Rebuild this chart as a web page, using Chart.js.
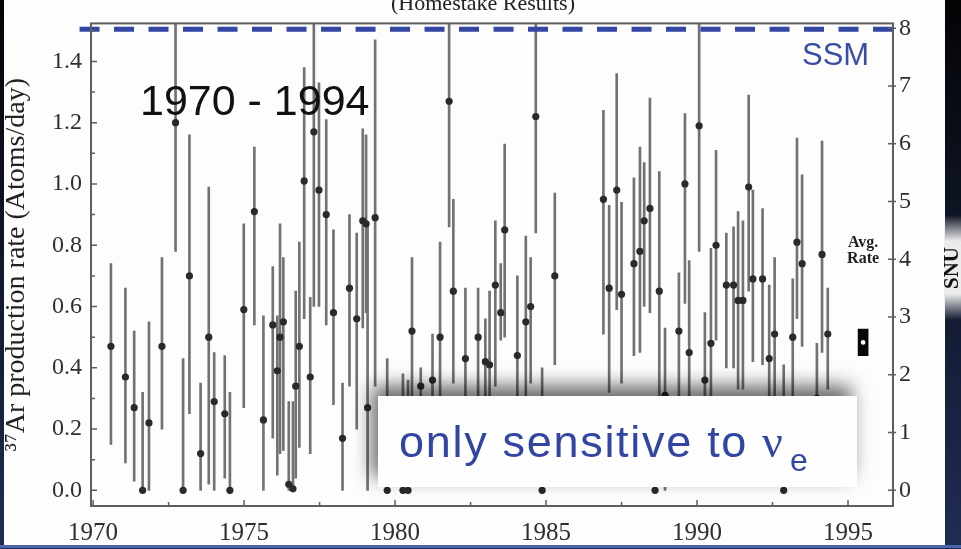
<!DOCTYPE html>
<html>
<head>
<meta charset="utf-8">
<script src="https://cdn.jsdelivr.net/npm/chart.js@4.4.1/dist/chart.umd.min.js"></script>
<style>
html, body { margin: 0; padding: 0; background: #0a0d16; overflow: hidden; }
#wrap { position: relative; width: 961px; height: 549px; }
</style>
</head>
<body>
<div id="wrap"><canvas id="chart"></canvas></div>
<script>
// Run dates (years) and 37Ar production rate (atoms/day)
const years = [1970.59, 1971.07, 1971.36, 1971.64, 1971.85, 1972.28, 1972.73, 1972.98, 1973.19, 1973.56,
  1973.83, 1974.01, 1974.36, 1974.53, 1974.99, 1975.34, 1975.64, 1975.95, 1976.10, 1976.19,
  1976.30, 1976.48, 1976.62, 1976.71, 1976.83, 1976.99, 1977.19, 1977.31, 1977.48, 1977.72,
  1977.96, 1978.26, 1978.49, 1978.73, 1978.93, 1979.04, 1979.09, 1979.34, 1979.74, 1980.26,
  1980.43, 1980.56, 1980.85, 1981.24, 1981.49, 1981.79, 1981.93, 1982.33, 1982.75, 1982.99,
  1983.13, 1983.32, 1983.50, 1983.63, 1984.05, 1984.33, 1984.49, 1984.66, 1984.87, 1985.29,
  1986.90, 1987.09, 1987.34, 1987.50, 1987.91, 1988.11, 1988.25, 1988.44, 1988.61, 1988.75,
  1988.94, 1989.40, 1989.60, 1989.74, 1990.07, 1990.26, 1990.46, 1990.63, 1990.97, 1991.21,
  1991.36, 1991.52, 1991.71, 1991.85, 1992.17, 1992.39, 1992.57, 1992.87, 1993.17, 1993.31,
  1993.48, 1993.97, 1994.14, 1994.33];
const rates = [0.47, 0.37, 0.27, 0, 0.22, 0.47, 1.20, 0, 0.70, 0.12,
  0.50, 0.29, 0.25, 0, 0.59, 0.91, 0.23, 0.54, 0.39, 0.50,
  0.55, 0.02, 0.005, 0.34, 0.47, 1.01, 0.37, 1.17, 0.98, 0.90,
  0.58, 0.17, 0.66, 0.56, 0.88, 0.87, 0.27, 0.89, 0, 0,
  0, 0.52, 0.34, 0.36, 0.50, 1.27, 0.65, 0.43, 0.50, 0.42,
  0.41, 0.67, 0.58, 0.85, 0.44, 0.55, 0.60, 1.22, 0, 0.70,
  0.95, 0.66, 0.98, 0.64, 0.74, 0.78, 0.88, 0.92, 0, 0.65,
  0.31, 0.52, 1.00, 0.45, 1.19, 0.36, 0.48, 0.80, 0.67, 0.67,
  0.62, 0.62, 0.99, 0.69, 0.69, 0.43, 0.51, 0, 0.50, 0.81,
  0.74, 0.30, 0.77, 0.51];
const errLow = [0.15, 0.09, 0.03, 0, 0, 0.20, 0.78, 0, 0.25, 0,
  0.02, 0, 0.04, 0, 0.27, 0.54, 0, 0.17, 0.05, 0.12,
  0.13, 0, 0, 0.04, 0.14, 0.56, 0.12, 0.60, 0.60, 0.54,
  0.28, 0, 0.34, 0.20, 0.53, 0.58, 0, 0.34, 0, 0,
  0, 0.28, 0.12, 0.20, 0.19, 0.86, 0.35, 0.20, 0.28, 0.15,
  0.15, 0.34, 0.49, 0.50, 0.19, 0.30, 0.35, 0.84, 0, 0.41,
  0.51, 0.32, 0.59, 0.35, 0.44, 0.45, 0.60, 0.58, 0, 0.30,
  0, 0.30, 0.61, 0.15, 0.78, 0.10, 0.15, 0.49, 0.40, 0.40,
  0.33, 0.33, 0.65, 0.42, 0.41, 0.20, 0.27, 0, 0.27, 0.56,
  0.47, 0.10, 0.45, 0.33];
const errHigh = [0.74, 0.66, 0.52, 0.32, 0.55, 0.76, 1.60, 0.43, 1.16, 0.35,
  0.99, 0.45, 0.44, 0.32, 0.87, 1.12, 0.57, 0.73, 0.57, 0.87,
  0.76, 0.29, 0.29, 0.65, 0.81, 1.38, 0.63, 1.60, 1.33, 1.21,
  0.85, 0.35, 0.90, 0.84, 1.18, 1.16, 0.87, 1.47, 0.43, 0.38,
  0.36, 0.76, 0.40, 0.51, 0.81, 1.60, 0.95, 0.66, 0.66, 0.56,
  0.65, 0.88, 0.74, 1.13, 0.70, 0.83, 0.76, 1.60, 0.40, 0.97,
  1.24, 0.93, 1.36, 0.94, 1.02, 1.12, 1.07, 1.28, 0.30, 1.04,
  0.53, 0.71, 1.23, 0.75, 1.60, 0.58, 0.79, 1.11, 0.84, 0.86,
  0.91, 0.88, 1.29, 0.98, 0.92, 0.67, 0.76, 0.41, 0.69, 1.15,
  1.03, 0.48, 1.14, 0.66];

// Average rate and SSM prediction
const avgYear = 1995.5;
const avgRate = 0.483;
const avgRange = [0.44, 0.526];
const ssmRate = 1.505;
const ssmSpan = [1969.55, 1996.49];

// Axes
const xTicks = [1970, 1975, 1980, 1985, 1990, 1995];
const yTicks = [0, 0.2, 0.4, 0.6, 0.8, 1.0, 1.2, 1.4];
const snuTicks = [0, 1, 2, 3, 4, 5, 6, 7, 8];
const xRange = [1969.93, 1996.49];
const yRange = [-0.051, 1.524];
const snuPerRate = 8 / 1.508;

const serif = '"Liberation Serif", "DejaVu Serif", serif';
const sans = '"Liberation Sans", Arial, sans-serif';
const blue = '#3146a2';

// Fondo, marco, marcas interiores y textos
const decorations = {
    id: 'decorations',
    beforeDraw(chart) {
        const { ctx, width, height } = chart;
        ctx.save();
        const g = ctx.createLinearGradient(0, 0, 0, height);
        g.addColorStop(0, '#040406');
        g.addColorStop(1, '#1f2d54');
        ctx.fillStyle = g;
        ctx.fillRect(0, 0, width, height);
        ctx.fillStyle = '#fdfdfc';
        ctx.fillRect(4, 0, 941, 545);
        // lighter patch behind the SNU label
        const p = ctx.createLinearGradient(0, 215, 0, 320);
        p.addColorStop(0, 'rgba(235,235,235,0)');
        p.addColorStop(0.25, 'rgba(235,235,235,1)');
        p.addColorStop(0.75, 'rgba(235,235,235,1)');
        p.addColorStop(1, 'rgba(235,235,235,0)');
        ctx.fillStyle = p;
        ctx.fillRect(944, 215, 17, 105);
        ctx.fillStyle = '#4a66a8';
        ctx.fillRect(0, 545, width, 3);
        ctx.restore();
    },
    afterDatasetsDraw(chart) {
        const { ctx, chartArea: a, scales } = chart;
        ctx.save();

        // frame
        ctx.strokeStyle = '#5e5e5e';
        ctx.lineWidth = 2;
        ctx.strokeRect(a.left, a.top, a.right - a.left, a.bottom - a.top);

        // inward ticks
        ctx.lineWidth = 1.5;
        ctx.beginPath();
        for (let i = 0; i <= 10; i++) {
            const px = scales.x.getPixelForValue(1970 + i * 2.5);
            const len = i % 2 === 0 ? 6 : 4;
            ctx.moveTo(px, a.bottom); ctx.lineTo(px, a.bottom - len);
        }
        for (let i = 0; i <= 15; i++) {
            const py = scales.y.getPixelForValue(i / 10);
            const len = i % 2 === 0 ? 6 : 4;
            ctx.moveTo(a.left, py); ctx.lineTo(a.left + len, py);
        }
        snuTicks.forEach(v => {
            const py = scales.y2.getPixelForValue(v);
            ctx.moveTo(a.right, py); ctx.lineTo(a.right - 5, py);
            ctx.moveTo(a.right, py); ctx.lineTo(a.right + 3, py);
        });
        ctx.stroke();

        // title, cut by the top of the slide
        ctx.fillStyle = '#222';
        ctx.font = '22px ' + serif;
        ctx.textAlign = 'center';
        ctx.textBaseline = 'alphabetic';
        ctx.fillText('(Homestake Results)', 483, 10);

        // right axis title
        ctx.save();
        ctx.translate(951, 268);
        ctx.rotate(-Math.PI / 2);
        ctx.font = 'bold 21px ' + serif;
        ctx.fillStyle = '#111';
        ctx.fillText('SNU', 0, 7);
        ctx.restore();

        // period label
        ctx.textAlign = 'left';
        ctx.fillStyle = '#111';
        ctx.font = '43px ' + sans;
        ctx.fillText('1970 - 1994', 140, 115);

        // SSM label
        ctx.fillStyle = '#3a4ea6';
        ctx.font = '31px ' + sans;
        ctx.fillText('SSM', 802, 65);

        // average rate label
        const ax = scales.x.getPixelForValue(avgYear);
        ctx.fillStyle = '#222';
        ctx.textAlign = 'center';
        ctx.font = 'bold 16px ' + serif;
        ctx.fillText('Avg.', ax, 247);
        ctx.fillText('Rate', ax, 263);

        // white text box with shadow
        ctx.save();
        ctx.shadowColor = 'rgba(0,0,0,0.6)';
        ctx.shadowBlur = 18;
        ctx.shadowOffsetX = -6;
        ctx.shadowOffsetY = -10;
        ctx.fillStyle = '#fefefe';
        ctx.fillRect(378, 396, 479, 91);
        ctx.restore();

        ctx.textAlign = 'left';
        ctx.fillStyle = blue;
        ctx.font = '45px ' + sans;
        ctx.letterSpacing = '1.7px';
        ctx.fillText('only sensitive to', 399, 457);
        ctx.letterSpacing = '0px';
        ctx.font = '46px ' + serif;
        ctx.fillText('ν', 762, 457);
        ctx.font = '32px ' + sans;
        ctx.fillText('e', 790, 471);

        ctx.restore();
    }
};

const errorBars = years.map((x, i) => ({ x: x, y: [errLow[i], errHigh[i]] }));
const points = years.map((x, i) => ({ x: x, y: rates[i] }));

new Chart(document.getElementById('chart'), {
    type: 'scatter',
    data: {
        datasets: [
            {
                type: 'line',
                data: [{ x: ssmSpan[0], y: ssmRate }, { x: ssmSpan[1], y: ssmRate }],
                borderColor: '#3446a3',
                borderWidth: 5,
                borderDash: [20, 14.5],
                pointRadius: 0,
                clip: false,
                order: 0
            },
            {
                type: 'scatter',
                data: [{ x: avgYear, y: avgRate }],
                pointRadius: 2.3,
                pointBackgroundColor: '#ffffff',
                pointBorderWidth: 0,
                order: 1
            },
            {
                type: 'bar',
                data: [{ x: avgYear, y: avgRange }],
                backgroundColor: '#080808',
                barThickness: 10,
                grouped: false,
                clip: 0,
                order: 2
            },
            {
                type: 'scatter',
                data: points,
                pointRadius: 3.6,
                pointBackgroundColor: '#2a2a2a',
                pointBorderWidth: 0,
                order: 3
            },
            {
                type: 'bar',
                data: errorBars,
                backgroundColor: '#727272',
                barThickness: 2,
                grouped: false,
                clip: 0,
                order: 4
            }
        ]
    },
    options: {
        responsive: true,
        maintainAspectRatio: false,
        animation: false,
        events: [],
        layout: { padding: { top: 13, left: 0, right: 0, bottom: 0 } },
        plugins: {
            legend: { display: false },
            tooltip: { enabled: false }
        },
        scales: {
            x: {
                type: 'linear',
                position: 'bottom',
                min: xRange[0],
                max: xRange[1],
                offset: false,
                afterBuildTicks: s => { s.ticks = xTicks.map(v => ({ value: v })); },
                afterFit: s => { s.height = 43; },
                grid: { display: false, drawTicks: false },
                border: { display: false },
                ticks: {
                    color: '#2e2e2e',
                    font: { family: serif, size: 25 },
                    padding: 12,
                    maxRotation: 0,
                    callback: v => String(v)
                }
            },
            y: {
                type: 'linear',
                position: 'left',
                min: yRange[0],
                max: yRange[1],
                afterBuildTicks: s => { s.ticks = yTicks.map(v => ({ value: v })); },
                afterFit: s => { s.width = 91; },
                grid: { display: false, drawTicks: false },
                border: { display: false },
                ticks: {
                    color: '#2e2e2e',
                    font: { family: serif, size: 24 },
                    padding: 9,
                    callback: v => v.toFixed(1)
                },
                title: {
                    display: true,
                    text: '³⁷Ar production rate (Atoms/day)',
                    color: '#222',
                    font: { family: serif, size: 28 },
                    padding: { top: 0, bottom: 0 }
                }
            },
            y2: {
                type: 'linear',
                position: 'right',
                min: yRange[0] * snuPerRate,
                max: yRange[1] * snuPerRate,
                afterBuildTicks: s => { s.ticks = snuTicks.map(v => ({ value: v })); },
                afterFit: s => { s.width = 68; },
                grid: { display: false, drawTicks: false },
                border: { display: false },
                ticks: {
                    color: '#2e2e2e',
                    font: { family: serif, size: 24 },
                    padding: 6,
                    callback: v => String(v)
                }
            }
        }
    },
    plugins: [decorations]
});
</script>
</body>
</html>
